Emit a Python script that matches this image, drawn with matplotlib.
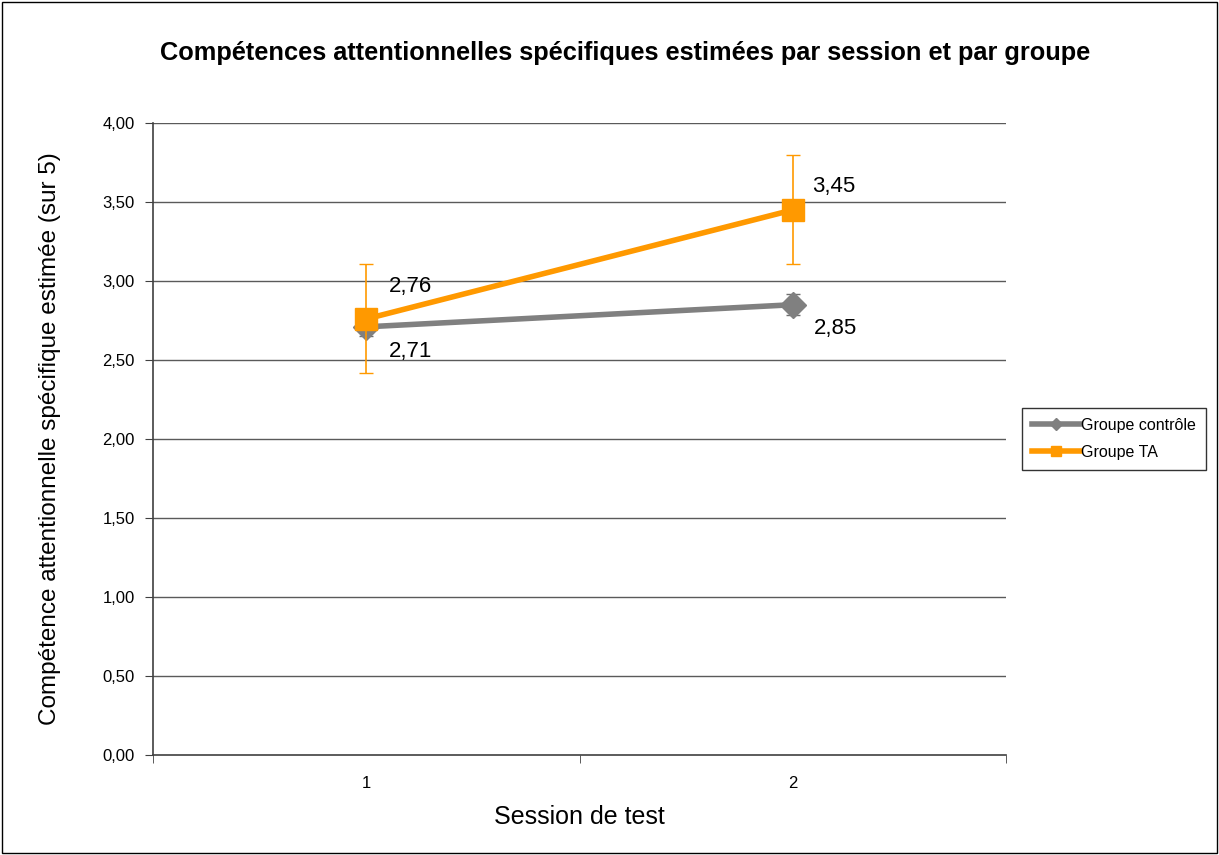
import numpy as np
import matplotlib.pyplot as plt
from matplotlib.patches import Rectangle
from matplotlib.lines import Line2D

plt.rcParams['font.family'] = ['Liberation Sans', 'DejaVu Sans']

sessions = [1, 2]
controle = [2.71, 2.85]
controle_err = [0.06, 0.065]
ta = [2.76, 3.45]
ta_err = [0.345, 0.345]
labels_controle = ['2,71', '2,85']
labels_ta = ['2,76', '3,45']
yticks = [0, 0.5, 1, 1.5, 2, 2.5, 3, 3.5, 4]

fig = plt.figure(figsize=(12.19, 8.55), dpi=100)
ax = fig.add_axes([0.1255, 0.117, 0.6998, 0.7391])

# grille horizontale
for t in yticks[1:]:
    ax.axhline(t, color='#5a5a5a', lw=1, zorder=1)

ax.errorbar(sessions, controle, yerr=controle_err, color='#808080', lw=4,
            marker='D', ms=13, ecolor='#707070', elinewidth=1.2, capsize=5,
            zorder=3)
ax.errorbar(sessions, ta, yerr=ta_err, color='#ff9900', lw=4,
            marker='s', ms=16, ecolor='#ff9900', elinewidth=1.2, capsize=5,
            zorder=4)

# étiquettes de données (décalages en points)
off_c = [(16, -18), (15, -17)]
off_ta = [(16, 23), (14, 17)]
for (x, y, s), o in zip(zip(sessions, controle, labels_controle), off_c):
    ax.annotate(s, (x, y), xytext=o, textcoords='offset points',
                fontsize=16, va='center')
for (x, y, s), o in zip(zip(sessions, ta, labels_ta), off_ta):
    ax.annotate(s, (x, y), xytext=o, textcoords='offset points',
                fontsize=16, va='center')

ax.set_xlim(0.5, 2.5)
ax.set_ylim(0, 4)
ax.set_yticks(yticks)
ax.set_yticks([], minor=True)
ax.set_xticks([0.5, 1.5, 2.5], minor=True)
ax.set_xticks(sessions)
ax.set_xticklabels(['1', '2'], fontsize=12)
ax.set_yticklabels([('%.2f' % t).replace('.', ',') for t in yticks], fontsize=12)
ax.tick_params(axis='x', which='major', length=0, pad=15)
ax.tick_params(axis='x', which='minor', length=6, direction='out', color='#404040')
ax.tick_params(axis='y', length=6, direction='out', color='#404040', pad=7)

for side in ['top', 'right']:
    ax.spines[side].set_visible(False)
ax.spines['left'].set_color('#404040')
ax.spines['bottom'].set_color('#404040')
ax.spines['left'].set_linewidth(1.2)
ax.spines['bottom'].set_linewidth(1.2)

ax.set_ylabel('Compétence attentionnelle spécifique estimée (sur 5)', fontsize=17.5, labelpad=30)
ax.set_xlabel('Session de test', fontsize=18, labelpad=10)
fig.text(0.5125, 0.938, 'Compétences attentionnelles spécifiques estimées par session et par groupe',
         ha='center', va='center', fontsize=18.3, fontweight='bold')

handles = [Line2D([], [], color='#808080', lw=4, marker='D', ms=6),
           Line2D([], [], color='#ff9900', lw=4, marker='s', ms=7)]
leg = ax.legend(handles, ['Groupe contrôle', 'Groupe TA'], loc='center left',
                bbox_to_anchor=(1.019, 0.5), frameon=True, fancybox=False,
                edgecolor='black', fontsize=11.5, handlelength=3.0, handletextpad=0.1,
                borderpad=0.6, labelspacing=0.75, borderaxespad=0)
leg.get_frame().set_linewidth(1)

fig.patches.append(Rectangle((0.002, 0.002), 0.996, 0.996, transform=fig.transFigure,
                             fill=False, edgecolor='black', lw=1))

fig.savefig('out.png', dpi=100)
